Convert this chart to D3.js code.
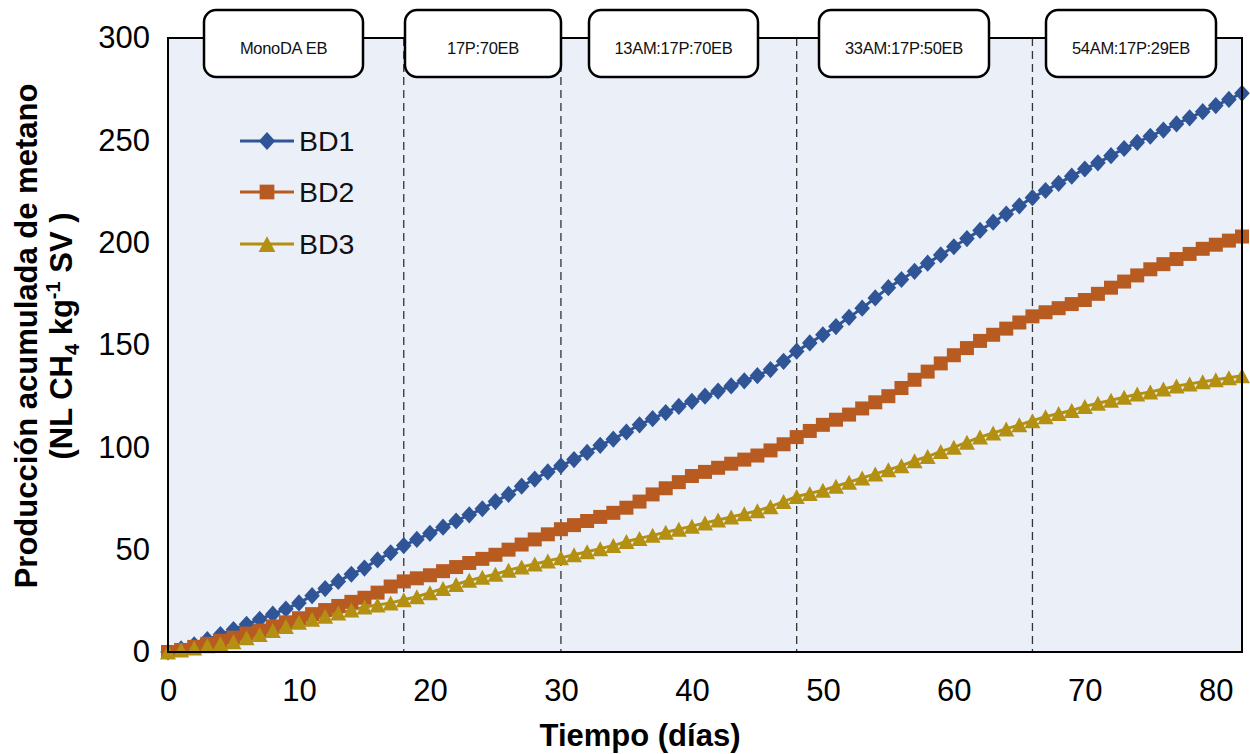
<!DOCTYPE html>
<html>
<head>
<meta charset="utf-8">
<script src="https://cdn.jsdelivr.net/npm/d3@7"></script>
<style>
  body { margin: 0; background: #fff; }
  text { font-family: "Liberation Sans", Arial, sans-serif; }
</style>
</head>
<body>
<div id="chart"></div>
<script>
// daily readings, day 0..82
const days = d3.range(0, 83);
const bd1 = [0,1.5,3.5,6,8.5,11,13.5,16,18.5,21,24,27.5,31,34.5,38,41,45,48.5,52,55,58,61,64,67,70,73.5,77,81,84.5,88,91,94,97.5,101,104,107.5,111,114,117,120,122.5,125,127.5,130,132.5,135,138,142,147,151,155,159,163.5,168,173,178,182,186,190,194,198,202,206,210,214,218,222,225.5,229,232.5,236,239,242.5,246,249,252,255,258,261,264,267,270,273];
const bd2 = [0,1,2.5,4,5.5,7,9,10.5,12.5,14.5,16.5,18.5,20.5,22.5,24.5,26.5,29,32,34.5,36,37.5,39.5,41.5,43.5,45.5,47.5,50,52.5,55,57.5,60,62,64,66,68,70.5,73.5,77,80,83,86,88,90,92,94,96,98.5,101.5,105,108,111,113.5,116,119,122,125,129,133,137,141,145,148.5,152,155,158,161,164,166,168,170,172,175,178,181,184,187,189.5,192,194.5,197,199,201,203];
const bd3 = [0,1,2,3,4,5,7,8.5,10.5,12.5,14.5,16,17.5,19,20.5,22,23,24,25.5,27,29,31,33,35,36.5,38,40,41.5,43,44.5,46,47.5,49,50.5,52,54,55.5,57,58.5,60,61.5,63,64.5,66,67.5,69,71,73.5,76,77.5,79,81,83,85,87,89,91,93.5,95.5,98,100,102.5,105,107,109,111,113,115,116.5,118,120,121.5,123,124.5,126,127,128.5,130,131,132,133,134,135];

const seriesNames = ["BD1", "BD2", "BD3"];
const seriesColors = ["#2F5597", "#B85B21", "#B38F12"];
const seriesShapes = ["diamond", "square", "triangle"];

const phaseDays = [18, 30, 48, 66];
const phaseLabels = ["MonoDA EB", "17P:70EB", "13AM:17P:70EB", "33AM:17P:50EB", "54AM:17P:29EB"];
const phaseBoxX = [[204, 363], [405, 561], [589, 758], [819, 989], [1046, 1216]];

const xTicks = [0, 10, 20, 30, 40, 50, 60, 70, 80];
const yTicks = [0, 50, 100, 150, 200, 250, 300];

const W = 1250, H = 754;
const plot = {left: 168, right: 1242, top: 38, bottom: 652};

const svg = d3.select("#chart").append("svg")
    .attr("width", W)
    .attr("height", H);

const x = d3.scaleLinear().domain([0, 82]).range([plot.left, plot.right]);
const y = d3.scaleLinear().domain([0, 300]).range([plot.bottom, plot.top]);

// marker outlines (Excel style)
function marker(shape, s) {
    if (shape === "diamond") {
        const w = 7.8 * s, h = 8.6 * s;
        return `M0,${-h}L${w},0L0,${h}L${-w},0Z`;
    }
    if (shape === "square") {
        const a = 7 * s;
        return `M${-a},${-a}H${a}V${a}H${-a}Z`;
    }
    const w = 8 * s, h = 7.5 * s;
    return `M0,${-h}L${w},${h}L${-w},${h}Z`;
}

// plot background
svg.append("rect")
    .attr("x", plot.left).attr("y", plot.top)
    .attr("width", plot.right - plot.left).attr("height", plot.bottom - plot.top)
    .attr("fill", "#EAEFF8");

// phase separators
svg.selectAll(".phase")
    .data(phaseDays)
    .enter().append("line")
    .attr("x1", d => x(d)).attr("x2", d => x(d))
    .attr("y1", plot.top).attr("y2", plot.bottom)
    .attr("stroke", "#333")
    .attr("stroke-width", 1.3)
    .attr("stroke-dasharray", "8,5");

// axes (labels only)
const xAxis = svg.append("g")
    .attr("transform", `translate(0,${plot.bottom})`)
    .call(d3.axisBottom(x).tickValues(xTicks).tickSize(0).tickPadding(27));
xAxis.select(".domain").remove();
xAxis.selectAll("text").attr("font-size", 31).attr("fill", "#000")
    .attr("font-family", "Liberation Sans, Arial, sans-serif");

const yAxis = svg.append("g")
    .attr("transform", `translate(${plot.left},0)`)
    .call(d3.axisLeft(y).tickValues(yTicks).tickSize(0).tickPadding(18));
yAxis.select(".domain").remove();
yAxis.selectAll("text").attr("font-size", 31).attr("fill", "#000")
    .attr("font-family", "Liberation Sans, Arial, sans-serif");

// series
const allSeries = [bd1, bd2, bd3];
const line = d3.line().x((d, i) => x(days[i])).y(d => y(d));

allSeries.forEach((vals, k) => {
    svg.append("path")
        .datum(vals)
        .attr("d", line)
        .attr("fill", "none")
        .attr("stroke", seriesColors[k])
        .attr("stroke-width", 3);
});

allSeries.forEach((vals, k) => {
    svg.append("g").selectAll("path")
        .data(vals)
        .enter().append("path")
        .attr("transform", (d, i) => `translate(${x(days[i])},${y(d)})`)
        .attr("d", marker(seriesShapes[k], 1))
        .attr("fill", seriesColors[k]);
});

// frame
svg.append("rect")
    .attr("x", plot.left).attr("y", plot.top)
    .attr("width", plot.right - plot.left).attr("height", plot.bottom - plot.top)
    .attr("fill", "none")
    .attr("stroke", "#000")
    .attr("stroke-width", 2);

// phase label boxes
phaseLabels.forEach((lab, i) => {
    const [x0, x1] = phaseBoxX[i];
    svg.append("rect")
        .attr("x", x0).attr("y", 10)
        .attr("width", x1 - x0).attr("height", 67)
        .attr("rx", 12).attr("ry", 12)
        .attr("fill", "#fff")
        .attr("stroke", "#000")
        .attr("stroke-width", 2.5);
    svg.append("text")
        .attr("x", (x0 + x1) / 2).attr("y", 54)
        .attr("text-anchor", "middle")
        .attr("font-size", 16.5)
        .attr("letter-spacing", "-0.3px")
        .attr("fill", "#111")
        .text(lab);
});

// legend
const legendY = [141, 192, 244];
seriesNames.forEach((name, k) => {
    const g = svg.append("g");
    g.append("line")
        .attr("x1", 240).attr("x2", 294)
        .attr("y1", legendY[k]).attr("y2", legendY[k])
        .attr("stroke", seriesColors[k])
        .attr("stroke-width", 3);
    g.append("path")
        .attr("transform", `translate(267,${legendY[k]})`)
        .attr("d", marker(seriesShapes[k], 1.05))
        .attr("fill", seriesColors[k]);
    g.append("text")
        .attr("x", 299).attr("y", legendY[k] + 10)
        .attr("font-size", 28.5)
        .attr("fill", "#111")
        .text(name);
});

// axis titles
svg.append("text")
    .attr("x", 640).attr("y", 746)
    .attr("text-anchor", "middle")
    .attr("font-size", 31)
    .attr("font-weight", "bold")
    .text("Tiempo (días)");

const yt = svg.append("g").attr("transform", "translate(37,336) rotate(-90)");
yt.append("text")
    .attr("x", 0).attr("y", 0)
    .attr("text-anchor", "middle")
    .attr("font-size", 31)
    .attr("font-weight", "bold")
    .text("Producción acumulada de metano");
const t2 = yt.append("text")
    .attr("x", 0).attr("y", 35)
    .attr("text-anchor", "middle")
    .attr("font-size", 31)
    .attr("font-weight", "bold");
t2.append("tspan").text("(NL CH");
t2.append("tspan").attr("font-size", 20).attr("dy", 7).text("4");
t2.append("tspan").attr("dy", -7).text(" kg");
t2.append("tspan").attr("font-size", 20).attr("dy", -12).text("-1");
t2.append("tspan").attr("dy", 12).text(" SV )");
</script>
</body>
</html>
